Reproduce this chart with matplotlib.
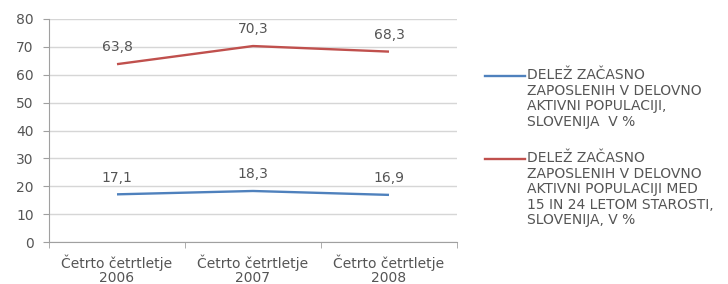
import numpy as np
import matplotlib.pyplot as plt
from matplotlib.lines import Line2D

categories = ["Četrto četrtletje\n2006", "Četrto četrtletje\n2007", "Četrto četrtletje\n2008"]
share_all = [17.1, 18.3, 16.9]
share_young = [63.8, 70.3, 68.3]
labels = [
    "DELEŽ ZAČASNO\nZAPOSLENIH V DELOVNO\nAKTIVNI POPULACIJI,\nSLOVENIJA  V %",
    "DELEŽ ZAČASNO\nZAPOSLENIH V DELOVNO\nAKTIVNI POPULACIJI MED\n15 IN 24 LETOM STAROSTI,\nSLOVENIJA, V %",
]
colors = ["#4F81BD", "#C0504D"]
text_gray = "#555555"

plt.rcParams["font.family"] = ["DejaVu Sans"]
plt.rcParams["font.size"] = 10

W, H = 728, 284
fig = plt.figure(figsize=(W / 100, H / 100), dpi=100)
ax = fig.add_axes([49 / W, 1 - 242 / H, (457 - 49) / W, (242 - 19) / H])

x = np.arange(len(categories))
for vals, c in zip([share_all, share_young], colors):
    ax.plot(x, vals, color=c, lw=1.7, solid_capstyle="butt")
    for xi, v in zip(x, vals):
        ax.annotate(f"{v:.1f}".replace(".", ","), (xi, v), xytext=(0, 7),
                    textcoords="offset points", ha="center", va="bottom",
                    color=text_gray, fontsize=10)

ax.set_xlim(-0.5, 2.5)
ax.set_ylim(0, 80)
ax.set_yticks(range(0, 81, 10))
ax.yaxis.grid(True, color="#d6d6d6", lw=1.0)
ax.set_axisbelow(True)
ax.set_xticks(x)
ax.set_xticklabels(categories, linespacing=1.0)
ax.set_xticks([-0.5, 0.5, 1.5, 2.5], minor=True)
ax.tick_params(axis="x", which="major", length=0, pad=9, colors=text_gray, labelsize=10)
ax.tick_params(axis="x", which="minor", length=4, color="#a0a0a0", direction="out")
ax.tick_params(axis="y", length=4, color="#a0a0a0", colors=text_gray, labelsize=10, pad=7)
for s in ["top", "right"]:
    ax.spines[s].set_visible(False)
for s in ["left", "bottom"]:
    ax.spines[s].set_color("#a0a0a0")
    ax.spines[s].set_linewidth(0.8)

# legend drawn by hand so the key line sits on the first text row
for lab, c, ymid in zip(labels, colors, [76, 159]):
    fig.add_artist(Line2D([485 / W, 525 / W], [1 - ymid / H] * 2, color=c, lw=1.7,
                          transform=fig.transFigure))
    fig.text(527 / W, 1 - (ymid - 8) / H, lab, ha="left", va="top", color=text_gray,
             fontsize=10, linespacing=1.14, transform=fig.transFigure)

fig.savefig("out.png", dpi=100)
